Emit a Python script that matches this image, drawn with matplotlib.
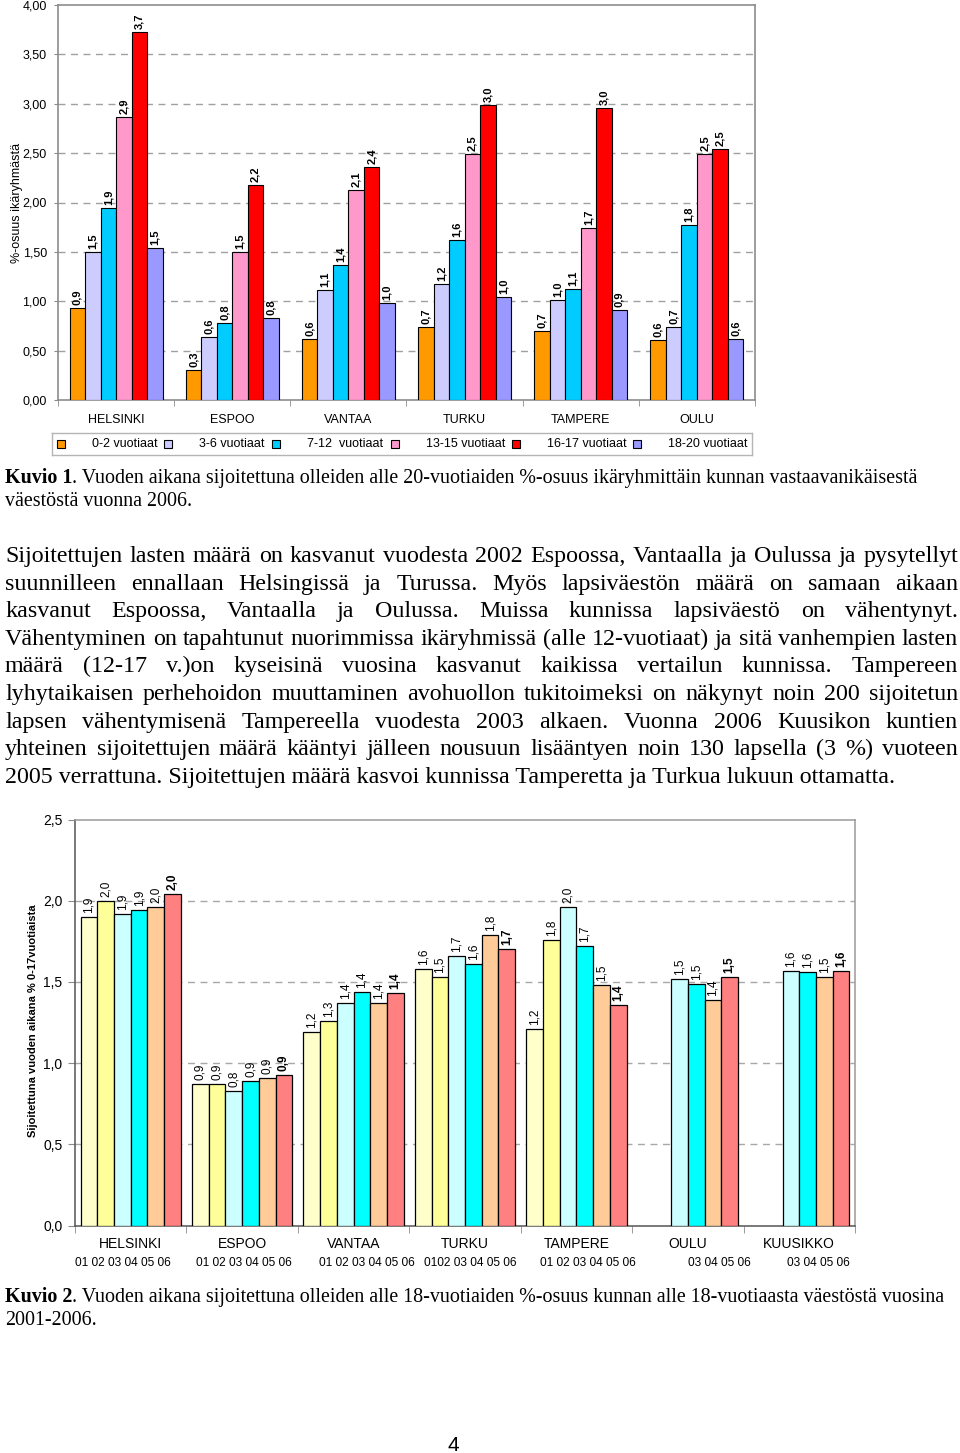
import numpy as np
import matplotlib
matplotlib.use("Agg")
import matplotlib.pyplot as plt
from matplotlib.patches import Rectangle

W, H = 960, 1453
fig = plt.figure(figsize=(9.6, 14.53), dpi=100)
SANS = "Liberation Sans"
SERIF = "Liberation Serif"

def fx(px):
    return px / W

def fy(py):
    return 1 - py / H

# ---------------- Chart 1 data ----------------
cities1 = ["HELSINKI", "ESPOO", "VANTAA", "TURKU", "TAMPERE", "OULU"]
age_groups = ["0-2 vuotiaat", "3-6 vuotiaat", "7-12  vuotiaat",
              "13-15 vuotiaat", "16-17 vuotiaat", "18-20 vuotiaat"]
age_0_2 = [0.93, 0.30, 0.62, 0.74, 0.70, 0.61]
age_3_6 = [1.50, 0.64, 1.11, 1.17, 1.01, 0.74]
age_7_12 = [1.94, 0.78, 1.37, 1.62, 1.12, 1.77]
age_13_15 = [2.87, 1.50, 2.13, 2.49, 1.74, 2.49]
age_16_17 = [3.73, 2.18, 2.36, 2.99, 2.96, 2.54]
age_18_20 = [1.54, 0.83, 0.98, 1.04, 0.91, 0.62]
series1 = [age_0_2, age_3_6, age_7_12, age_13_15, age_16_17, age_18_20]
colors1 = ["#FF9900", "#CCCCFF", "#00CCFF", "#FF99CC", "#FF0000", "#9999FF"]
yticks1 = [0, 0.5, 1.0, 1.5, 2.0, 2.5, 3.0, 3.5, 4.0]

# ---------------- Chart 2 data ----------------
cities2 = ["HELSINKI", "ESPOO", "VANTAA", "TURKU", "TAMPERE", "OULU", "KUUSIKKO"]
year_names = ["01", "02", "03", "04", "05", "06"]
y2001 = [1.90, 0.87, 1.19, 1.58, 1.21, np.nan, np.nan]
y2002 = [2.00, 0.87, 1.26, 1.53, 1.76, np.nan, np.nan]
y2003 = [1.92, 0.83, 1.37, 1.66, 1.96, 1.52, 1.57]
y2004 = [1.94, 0.89, 1.44, 1.61, 1.72, 1.49, 1.56]
y2005 = [1.96, 0.91, 1.37, 1.79, 1.48, 1.39, 1.53]
y2006 = [2.04, 0.93, 1.43, 1.70, 1.36, 1.53, 1.57]
series2 = [y2001, y2002, y2003, y2004, y2005, y2006]
colors2 = ["#FFFFCC", "#FFFF99", "#CCFFFF", "#00FFFF", "#FFCC99", "#FF8080"]
year_rows = ["01 02 03 04 05 06", "01 02 03 04 05 06", "01 02 03 04 05 06",
             "0102 03 04 05 06", "01 02 03 04 05 06", "03 04 05 06", "03 04 05 06"]
year_row_shift = [-0.07, 0.02, 0.12, 0.05, 0.10, 0.28, 0.17]
yticks2 = [0, 0.5, 1.0, 1.5, 2.0, 2.5]

def fmt(v):
    return f"{v:.1f}".replace(".", ",")

# ================= Chart 1 =================
ax1 = fig.add_axes([fx(58), fy(400), fx(755) - fx(58), (400 - 5) / H])
n1 = len(cities1)
x1 = np.arange(n1)
w1 = 0.8 / len(series1)
for j, (vals, col) in enumerate(zip(series1, colors1)):
    xs = x1 + (j - 2.5) * w1
    ax1.bar(xs, vals, width=w1, color=col, edgecolor="black", linewidth=0.8, zorder=3)
    for xx, v in zip(xs, vals):
        ax1.annotate(fmt(v), (xx, v), xytext=(0, 3), textcoords="offset pixels",
                     rotation=90, ha="center", va="bottom", fontsize=8,
                     fontweight="bold", family=SANS, zorder=4)
ax1.set_xlim(-0.5, n1 - 0.5)
ax1.set_ylim(0, 4)
ax1.set_yticks(yticks1)
ax1.set_yticklabels([f"{t:.2f}".replace(".", ",") for t in yticks1], family=SANS, fontsize=9)
ax1.set_xticks(x1)
ax1.set_xticklabels(cities1, family=SANS, fontsize=9)
ax1.set_xticks(np.arange(-0.5, n1), minor=True)
ax1.tick_params(axis="x", which="major", length=0, pad=10)
ax1.tick_params(axis="x", which="minor", length=4, color="#8c8c8c")
ax1.tick_params(axis="y", length=3, color="#8c8c8c", pad=5)
for t in yticks1[1:-1]:
    ax1.axhline(t, color="#a0a0a0", lw=1, ls=(0, (5, 4)), zorder=1)
for s in ax1.spines.values():
    s.set_color("#8c8c8c")
    s.set_linewidth(1.2)
ax1.set_ylabel("%-osuus ikäryhmästä", family=SANS, fontsize=9)
ax1.yaxis.set_label_coords((17 - 58) / 697, 0.5)
ax1.yaxis.label.set_va("center")

# legend (chart 1)
lax = fig.add_axes([fx(52), fy(455), fx(752) - fx(52), 22 / H])
lax.set_xlim(52, 752)
lax.set_ylim(455, 433)
lax.set_xticks([])
lax.set_yticks([])
for s in lax.spines.values():
    s.set_color("#b5b5b5")
    s.set_linewidth(1)
leg_x = [61, 168, 276, 395, 516, 637]
for lx, name, col in zip(leg_x, age_groups, colors1):
    lax.add_patch(Rectangle((lx - 4, 440), 8, 8, facecolor=col, edgecolor="black", lw=0.8))
    lax.text(lx + 31, 444.5, name, va="center", ha="left", family=SANS, fontsize=9)

# ================= Chart 2 =================
ax2 = fig.add_axes([fx(75), fy(1225.7), fx(855) - fx(75), (1225.7 - 819.5) / H])
n2 = len(cities2)
x2 = np.arange(n2)
w2 = 0.9 / len(series2)
for j, (vals, col) in enumerate(zip(series2, colors2)):
    xs = x2 + (j - 2.5) * w2
    vals = np.array(vals, dtype=float)
    ok = ~np.isnan(vals)
    ax2.bar(xs[ok], vals[ok], width=w2, color=col, edgecolor="black", linewidth=0.9, zorder=3)
    for xx, v in zip(xs[ok], vals[ok]):
        ax2.annotate(fmt(v), (xx, v), xytext=(0, 4), textcoords="offset pixels",
                     rotation=90, ha="center", va="bottom", fontsize=8.5,
                     fontweight="bold" if j == len(series2) - 1 else "normal",
                     family=SANS, zorder=4)
ax2.set_xlim(-0.5, n2 - 0.5)
ax2.set_ylim(0, 2.5)
ax2.set_yticks(yticks2)
ax2.set_yticklabels([f"{t:.1f}".replace(".", ",") for t in yticks2], family=SANS, fontsize=10)
ax2.set_xticks(x2)
ax2.set_xticklabels(cities2, family=SANS, fontsize=10)
ax2.set_xticks(np.arange(-0.5, n2), minor=True)
ax2.tick_params(axis="x", which="major", length=0, pad=8)
ax2.tick_params(axis="x", which="minor", length=5, color="#8c8c8c")
ax2.tick_params(axis="y", length=5, color="#8c8c8c", pad=4)
for t in yticks2[1:-1]:
    ax2.axhline(t, color="#a8a8a8", lw=1, ls=(0, (5, 4)), zorder=1)
ax2.spines["left"].set_color("#555555")
ax2.spines["bottom"].set_color("#555555")
ax2.spines["top"].set_color("#9a9a9a")
ax2.spines["right"].set_color("#9a9a9a")
for s in ax2.spines.values():
    s.set_linewidth(1.1)
ax2.set_ylabel("Sijoitettuna vuoden aikana % 0-17vuotiaista", family=SANS,
               fontsize=8, fontweight="bold")
ax2.yaxis.set_label_coords((33 - 75) / 780, (1225.7 - 1021) / 406.2)
ax2.yaxis.label.set_va("center")
for i, (txt, sh) in enumerate(zip(year_rows, year_row_shift)):
    ax2.text(i + sh, -(1263 - 1225.7) / 406.2, txt, transform=ax2.get_xaxis_transform(),
             ha="center", va="center", family=SANS, fontsize=8.6)

# ================= Text blocks =================
renderer = fig.canvas.get_renderer()

def twidth(s, **kw):
    t = fig.text(0, 0, s, **kw)
    w = t.get_window_extent(renderer).width
    t.remove()
    return w

BODY = dict(family=SERIF, fontsize=17.3)
CAP = dict(family=SERIF, fontsize=14.4)

def caption(y, bold, rest):
    kb = dict(CAP, fontweight="bold")
    fig.text(fx(5), fy(y), bold, va="baseline", ha="left", **kb)
    wb = twidth(bold, **kb)
    fig.text(fx(5 + wb), fy(y), rest, va="baseline", ha="left", **CAP)

caption(483, "Kuvio 1", ". Vuoden aikana sijoitettuna olleiden alle 20-vuotiaiden %-osuus ikäryhmittäin kunnan vastaavanikäisestä")
fig.text(fx(5), fy(506), "väestöstä vuonna 2006.", va="baseline", ha="left", **CAP)

body_lines = [
    "Sijoitettujen lasten määrä on kasvanut vuodesta 2002 Espoossa, Vantaalla ja Oulussa ja pysytellyt",
    "suunnilleen ennallaan Helsingissä ja Turussa. Myös lapsiväestön määrä on samaan aikaan",
    "kasvanut Espoossa, Vantaalla ja Oulussa. Muissa kunnissa lapsiväestö on vähentynyt.",
    "Vähentyminen on tapahtunut nuorimmissa ikäryhmissä (alle 12-vuotiaat) ja sitä vanhempien lasten",
    "määrä (12-17 v.)on kyseisinä vuosina kasvanut kaikissa vertailun kunnissa. Tampereen",
    "lyhytaikaisen perhehoidon muuttaminen avohuollon tukitoimeksi on näkynyt noin 200 sijoitetun",
    "lapsen vähentymisenä Tampereella vuodesta 2003 alkaen. Vuonna 2006 Kuusikon kuntien",
    "yhteinen sijoitettujen määrä kääntyi jälleen nousuun lisääntyen noin 130 lapsella (3 %) vuoteen",
    "2005 verrattuna. Sijoitettujen määrä kasvoi kunnissa Tamperetta ja Turkua lukuun ottamatta.",
]
x0, x1r = 5, 958
y0, dy = 562, 27.6
for k, line in enumerate(body_lines):
    yb = y0 + k * dy
    if k == len(body_lines) - 1:
        fig.text(fx(x0), fy(yb), line, va="baseline", ha="left", **BODY)
        continue
    words = line.split(" ")
    ws = [twidth(wd, **BODY) for wd in words]
    gap = (x1r - x0 - sum(ws)) / (len(words) - 1)
    xx = x0
    for wd, ww in zip(words, ws):
        fig.text(fx(xx), fy(yb), wd, va="baseline", ha="left", **BODY)
        xx += ww + gap

caption(1302, "Kuvio 2", ". Vuoden aikana sijoitettuna olleiden alle 18-vuotiaiden %-osuus kunnan alle 18-vuotiaasta väestöstä vuosina")
fig.text(fx(5), fy(1325), "2001-2006.", va="baseline", ha="left", **CAP)

fig.text(fx(453), fy(1451), "4", va="baseline", ha="center", family=SANS, fontsize=15)

fig.savefig("out.png", dpi=100)
